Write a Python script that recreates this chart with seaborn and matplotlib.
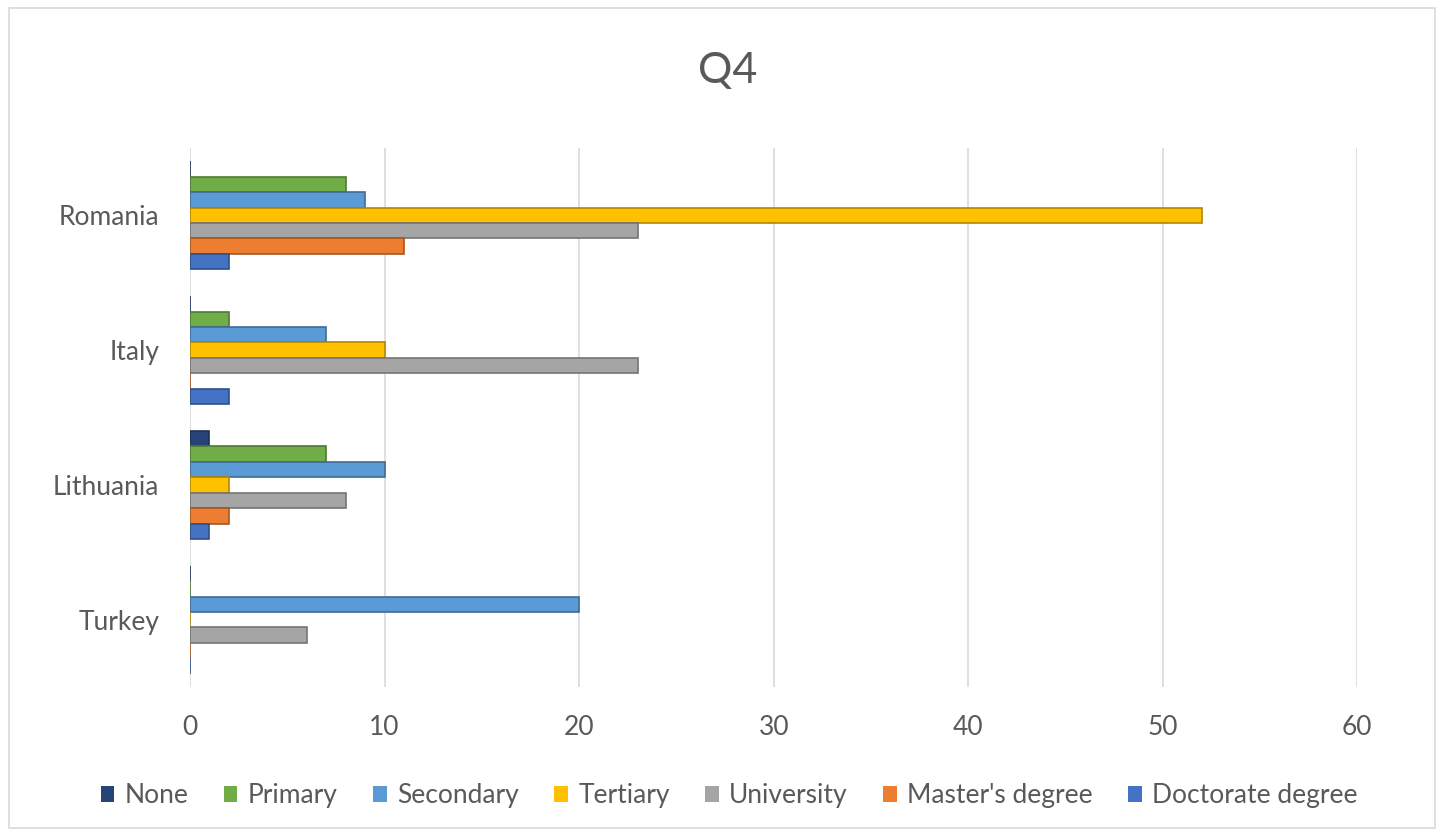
import matplotlib
matplotlib.use("Agg")
import matplotlib.pyplot as plt
import matplotlib.colors as mcolors
import seaborn as sns
import pandas as pd
from matplotlib.patches import Rectangle, Patch

countries = ["Romania", "Italy", "Lithuania", "Turkey"]
levels = ["None", "Primary", "Secondary", "Tertiary", "University",
          "Master's degree", "Doctorate degree"]
none_vals = [0, 0, 1, 0]
primary_vals = [8, 2, 7, 0]
secondary_vals = [9, 7, 10, 20]
tertiary_vals = [52, 10, 2, 0]
university_vals = [23, 23, 8, 6]
masters_vals = [11, 0, 2, 0]
doctorate_vals = [2, 2, 1, 0]
colors = ["#264478", "#70AD47", "#5B9BD5", "#FFC000", "#A5A5A5", "#ED7D31", "#4472C4"]
x_ticks = [0, 10, 20, 30, 40, 50, 60]

series = [none_vals, primary_vals, secondary_vals, tertiary_vals,
          university_vals, masters_vals, doctorate_vals]
rows = []
for lvl, vals in zip(levels, series):
    for c, v in zip(countries, vals):
        rows.append({"Country": c, "Level": lvl, "Value": v})
df = pd.DataFrame(rows)

sns.set_theme(style="white")
plt.rcParams['font.family'] = ['Lato', 'DejaVu Sans']

fig = plt.figure(figsize=(14.44, 8.36), dpi=100)
ax = fig.add_axes([0.1316, 0.178, 0.8084, 0.645])

sns.barplot(data=df, y="Country", x="Value", hue="Level", order=countries,
            hue_order=levels, palette=colors, orient="h", width=0.8,
            ax=ax, legend=False, saturation=1, edgecolor="none")

# darker outline to mimic the bevelled 3D bars
for p in ax.patches:
    fc = mcolors.to_rgb(p.get_facecolor())
    p.set_edgecolor(tuple(c * 0.7 for c in fc))
    p.set_linewidth(1.2)

ax.set_xlim(0, 60)
ax.set_ylim(3.5, -0.5)
ax.set_xticks(x_ticks)
ax.set_xticklabels([str(t) for t in x_ticks])
ax.xaxis.grid(True, color="#D9D9D9", linewidth=1.2)
ax.set_axisbelow(True)
for s in ax.spines.values():
    s.set_visible(False)
ax.tick_params(axis="x", length=0, pad=20, labelsize=19, labelcolor="#595959")
ax.tick_params(axis="y", length=0, pad=22, labelsize=19, labelcolor="#595959")
ax.set_xlabel("")
ax.set_ylabel("")

fig.text(0.504, 0.915, "Q4", ha="center", va="center", fontsize=31, color="#595959")

handles = [Patch(facecolor=c, edgecolor="none") for c in colors]
fig.legend(handles, levels, loc="center", bbox_to_anchor=(0.505, 0.048), ncol=7,
           frameon=False, fontsize=19, handlelength=0.5, handleheight=0.5,
           handletextpad=0.4, columnspacing=1.35, labelcolor="#595959")

fig.patches.append(Rectangle((0.006, 0.009), 0.988, 0.982, transform=fig.transFigure,
                             fill=False, edgecolor="#D9D9D9", linewidth=1.2))

fig.savefig("out.png", dpi=100)
